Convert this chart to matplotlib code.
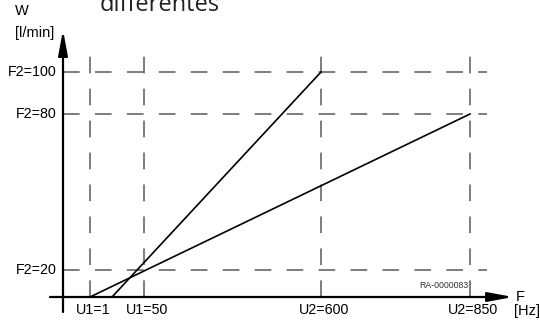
#!/usr/bin/env python3
"""Schematic W vs F diagram (two linear ramps between U1/U2 and F2 levels)."""

import matplotlib.pyplot as plt

plt.rcParams["font.family"] = ["Liberation Sans", "DejaVu Sans"]
plt.rcParams["lines.scale_dashes"] = False

# Schematic positions (not to scale) of the frequency marks on the F axis
X_TICK_POS = [27, 81, 258, 407]
X_TICK_LABELS = ["U1=1", "U1=50", "U2=600", "U2=850"]

# Schematic positions of the flow levels on the W axis
Y_TICK_POS = [27, 183, 225]
Y_TICK_LABELS = ["F2=20", "F2=80", "F2=100"]

# Two ramps: (x start, y start) -> (x end, y end)
RAMP_A_X = [49, 258]
RAMP_A_Y = [0, 225]
RAMP_B_X = [27, 407]
RAMP_B_Y = [0, 183]

DASH = (0, (12, 11))
GRID_COLOR = "#5a5a5a"


def main():
    fig = plt.figure(figsize=(5.4, 3.2), dpi=100)
    ax = fig.add_axes([0, 0, 1, 1])
    ax.set_xlim(-63, 477)
    ax.set_ylim(-23, 297)
    ax.axis("off")

    # dashed guide lines
    for x in X_TICK_POS:
        ax.plot([x, x], [0, 242], color=GRID_COLOR, lw=1.1, linestyle=DASH)
    for y in Y_TICK_POS:
        ax.plot([0, 424], [y, y], color=GRID_COLOR, lw=1.1, linestyle=DASH)

    # ramps
    ax.plot(RAMP_A_X, RAMP_A_Y, color="black", lw=1.2)
    ax.plot(RAMP_B_X, RAMP_B_Y, color="black", lw=1.2)

    # axes with arrows
    arrow = dict(arrowstyle="-|>,head_length=0.75,head_width=0.14",
                 mutation_scale=20, color="black", lw=1.6, shrinkA=0, shrinkB=0)
    ax.annotate("", xy=(0, 267), xytext=(0, -15), arrowprops=arrow)
    ax.annotate("", xy=(450, 0), xytext=(-13, 0), arrowprops=arrow)

    # tick labels
    for x, lab in zip(X_TICK_POS, X_TICK_LABELS):
        ax.text(x + 3, -6, lab, ha="center", va="top", fontsize=10.3)
    for y, lab in zip(Y_TICK_POS, Y_TICK_LABELS):
        ax.text(-6, y, lab, ha="right", va="center", fontsize=10.3)

    # axis titles
    ax.text(-48, 286, "W", ha="left", va="center", fontsize=10.5)
    ax.text(-48, 264, "[l/min]", ha="left", va="center", fontsize=10.5)
    ax.text(453, 0, "F", ha="left", va="center", fontsize=10.5)
    ax.text(451, -14, "[Hz]", ha="left", va="center", fontsize=10.5)

    ax.text(405, 11, "RA-0000083", ha="right", va="center", fontsize=6.3,
            color="#333333")

    # cut-off heading at the top of the image
    fig.text(0.185, 0.966, "différentes", ha="left", va="baseline",
             fontsize=17, family=["Open Sans", "DejaVu Sans"], color="#222222")

    fig.savefig("out.png", dpi=100)
    plt.close(fig)


if __name__ == "__main__":
    main()
